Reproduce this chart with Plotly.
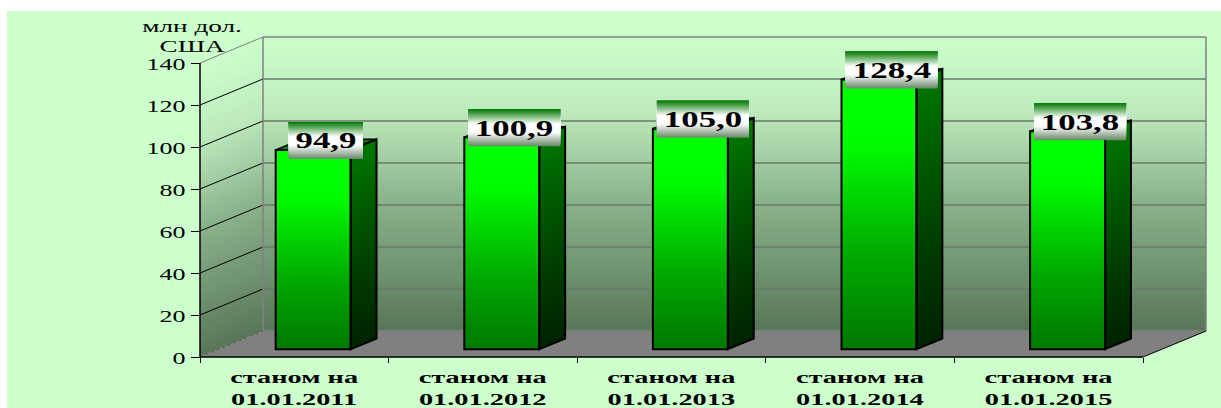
import plotly.graph_objects as go

categories = ["станом на<br>01.01.2011", "станом на<br>01.01.2012", "станом на<br>01.01.2013",
              "станом на<br>01.01.2014", "станом на<br>01.01.2015"]
values = [94.9, 100.9, 105.0, 128.4, 103.8]
value_labels = ["94,9", "100,9", "105,0", "128,4", "103,8"]
y_ticks = [0, 20, 40, 60, 80, 100, 120, 140]

W, H = 1221, 408
PX_U = 188.6      # pixels per category
PX_V = 2.1        # pixels per value unit
X0, Y0 = 200, 357
DX, DY = 63 / PX_U, 26 / PX_V   # full depth offset in axis units
BAR_D0, BAR_D1 = 0.30, 0.71     # bar depth span
BAR_W = 75 / PX_U
VMAX = 140
FONT = "Liberation Serif"


def proj(u, v, d=0.0):
    return u + d * DX, v + d * DY


def path(pts):
    return "M" + "L".join(f"{a:.5f},{b:.4f}" for a, b in pts) + "Z"


def mix(stops, t):
    for (t0, c0), (t1, c1) in zip(stops, stops[1:]):
        if t <= t1:
            f = (t - t0) / (t1 - t0) if t1 > t0 else 0
            c = [round(a + (b - a) * f) for a, b in zip(c0, c1)]
            return f"rgb({c[0]},{c[1]},{c[2]})"
    c = stops[-1][1]
    return f"rgb({c[0]},{c[1]},{c[2]})"


WALL = [(0, (88, 118, 88)), (0.45, (140, 180, 140)), (0.75, (190, 235, 190)), (1.0, (204, 255, 204))]
FRONT = [(0, (0, 120, 0)), (0.35, (0, 170, 0)), (0.75, (0, 250, 0)), (0.85, (0, 255, 0)), (1, (0, 255, 0))]
SIDE = [(0, (0, 35, 0)), (0.35, (0, 60, 0)), (1, (0, 120, 0))]
LABEL = [(0, (105, 135, 105)), (0.38, (255, 255, 255)), (0.6, (255, 255, 255)), (1, (0, 120, 0))]

shapes = []
shapes.append(dict(type="rect", xref="paper", yref="paper", x0=0, x1=1, y0=1 - 11 / H, y1=1,
                   fillcolor="white", line_width=0, layer="below"))
shapes.append(dict(type="rect", xref="paper", yref="paper", x0=0, x1=7 / W, y0=0, y1=1,
                   fillcolor="white", line_width=0, layer="below"))

# walls: painted bottom-up, every band reaches the top so no seams appear
N = 70
for k in range(N):
    v0 = VMAX * k / N
    col = mix(WALL, (k + .5) / N)
    shapes.append(dict(type="path", layer="below", fillcolor=col, line_width=0,
                       path=path([proj(0, v0), proj(0, v0, 1), proj(0, VMAX, 1), proj(0, VMAX)])))
    shapes.append(dict(type="path", layer="below", fillcolor=col, line_width=0,
                       path=path([proj(0, v0, 1), proj(5, v0, 1), proj(5, VMAX, 1), proj(0, VMAX, 1)])))
# floor
shapes.append(dict(type="path", layer="below", fillcolor="#808080", line_width=0,
                   path=path([proj(0, 0), proj(0, 0, 1), proj(5, 0, 1), proj(5, 0)])))
# grid lines
for t in y_ticks:
    if t == 0:
        continue
    a, b, c = proj(0, t), proj(0, t, 1), proj(5, t, 1)
    side_col = "black" if t < VMAX else "#808080"
    back_col = "#6a7a6a" if t < VMAX else "#808080"
    shapes.append(dict(type="line", layer="below", x0=a[0], y0=a[1], x1=b[0], y1=b[1],
                       line=dict(color=side_col, width=1)))
    shapes.append(dict(type="line", layer="below", x0=b[0], y0=b[1], x1=c[0], y1=c[1],
                       line=dict(color=back_col, width=1.5)))
# wall frame
for p, q in [((0, 0, 1), (0, VMAX, 1)), ((5, 0, 1), (5, VMAX, 1)), ((0, 0, 1), (5, 0, 1))]:
    a, b = proj(*p), proj(*q)
    shapes.append(dict(type="line", layer="below", x0=a[0], y0=a[1], x1=b[0], y1=b[1],
                       line=dict(color="#808080", width=1.5)))
a, b = proj(5, 0), proj(5, 0, 1)
shapes.append(dict(type="line", layer="below", x0=a[0], y0=a[1], x1=b[0], y1=b[1],
                   line=dict(color="black", width=1)))
a, b = proj(0, 0), proj(0, 0, 1)
shapes.append(dict(type="line", layer="below", x0=a[0], y0=a[1], x1=b[0], y1=b[1],
                   line=dict(color="#555555", width=1, dash="dot")))
# main axis lines
shapes.append(dict(type="line", layer="below", x0=0, y0=0, x1=0, y1=VMAX, line=dict(color="black", width=1.5)))
shapes.append(dict(type="line", layer="below", x0=0, y0=0, x1=5, y1=0, line=dict(color="black", width=1.5)))

# bars: front face bands go through a Bar trace, painted bottom-up
bx, by, bb, bc = [], [], [], []
B = 60
annotations = []
for i, val in enumerate(values):
    uc = i + 0.5 + BAR_D0 * DX
    lift = BAR_D0 * DY
    for k in range(B):
        v0 = val * k / B
        bx.append(uc)
        by.append(val - v0)
        bb.append(lift + v0)
        bc.append(mix(FRONT, (k + .5) / B))
    left = i + 0.5 - BAR_W / 2
    right = i + 0.5 + BAR_W / 2
    # side bands
    for k in range(B):
        v0 = val * k / B
        shapes.append(dict(type="path", layer="above", fillcolor=mix(SIDE, (k + .5) / B), line_width=0,
                           path=path([proj(right, v0, BAR_D0), proj(right, v0, BAR_D1),
                                      proj(right, val, BAR_D1), proj(right, val, BAR_D0)])))
    outline = dict(color="black", width=2)
    # top face
    shapes.append(dict(type="path", layer="above", fillcolor="#007a00", line=dict(color="black", width=1.5),
                       path=path([proj(left, val, BAR_D0), proj(left, val, BAR_D1),
                                  proj(right, val, BAR_D1), proj(right, val, BAR_D0)])))
    shapes.append(dict(type="path", layer="above", fillcolor="rgba(0,0,0,0)", line=outline,
                       path=path([proj(left, 0, BAR_D0), proj(right, 0, BAR_D0),
                                  proj(right, val, BAR_D0), proj(left, val, BAR_D0)])))
    shapes.append(dict(type="path", layer="above", fillcolor="rgba(0,0,0,0)", line=outline,
                       path=path([proj(right, 0, BAR_D0), proj(right, 0, BAR_D1),
                                  proj(right, val, BAR_D1), proj(right, val, BAR_D0)])))
    # data label box with gradient
    txt = value_labels[i]
    w_box = (18 * len(txt) + 2) / PX_U
    h_box = 37 / PX_V
    cx = left + BAR_D0 * DX + 50 / PX_U
    cy = lift + val + 9.5 / PX_V
    L = 37
    for k in range(L):
        y0 = cy - h_box / 2 + h_box * k / L
        shapes.append(dict(type="rect", layer="above", x0=cx - w_box / 2, x1=cx + w_box / 2,
                           y0=y0, y1=cy + h_box / 2,
                           fillcolor=mix(LABEL, (k + .5) / L), line_width=0))
    annotations.append(dict(x=cx, y=cy, text=f"<b>{txt}</b>", showarrow=False,
                            font=dict(family=FONT, size=24, color="black")))

fig = go.Figure(go.Bar(x=bx, y=by, base=bb, width=BAR_W, marker=dict(color=bc, line_width=0),
                       hoverinfo="skip", showlegend=False))

annotations.append(dict(xref="paper", yref="paper", x=192 / W, y=1 - 26 / H, xanchor="center", yanchor="middle",
                        text="млн дол.", showarrow=False, font=dict(family=FONT, size=17, color="black")))
annotations.append(dict(xref="paper", yref="paper", x=192 / W, y=1 - 46 / H, xanchor="center", yanchor="middle",
                        text="США", showarrow=False, font=dict(family=FONT, size=17, color="black")))

fig.update_layout(
    width=W, height=H, margin=dict(l=0, r=0, t=0, b=0),
    paper_bgcolor="#CCFFCC", plot_bgcolor="rgba(0,0,0,0)",
    barmode="overlay", showlegend=False, shapes=shapes, annotations=annotations,
    xaxis=dict(range=[-X0 / PX_U, (W - X0) / PX_U], domain=[0, 1], anchor="free", position=(H - Y0) / H,
               tickmode="array", tickvals=[i + 0.5 for i in range(5)], ticktext=[f"<b>{c}</b>" for c in categories],
               ticks="", showgrid=False, zeroline=False, showline=False, ticklabelstandoff=8,
               tickfont=dict(family=FONT, size=17, color="black"),
               minor=dict(tickmode="array", tickvals=list(range(6)), ticks="outside", ticklen=5,
                          tickcolor="black", showgrid=False)),
    yaxis=dict(range=[-(H - Y0) / PX_V, Y0 / PX_V], domain=[0, 1], anchor="free", position=X0 / W,
               tickmode="array", tickvals=y_ticks, ticktext=[str(t) for t in y_ticks],
               ticks="outside", ticklen=9, tickcolor="black", tickwidth=1, ticklabelstandoff=2,
               showgrid=False, zeroline=False, showline=False,
               tickfont=dict(family=FONT, size=17, color="black")),
)

# the reference's text is horizontally stretched; widen each text element around its anchor
STRETCH_JS = """
function stretch(sel, s, dy) {
  document.querySelectorAll(sel).forEach(function (t) {
    var k = typeof s === 'function' ? s(t) : s;
    var b = t.getBBox();
    var a = t.getAttribute('text-anchor') || t.style.textAnchor || 'start';
    var o = a === 'end' ? b.x + b.width : (a === 'middle' ? b.x + b.width / 2 : b.x);
    var old = t.getAttribute('transform') || '';
    t.setAttribute('transform', old + ' translate(' + o + ',' + (dy || 0) + ') scale(' + k + ',1) translate(' + (-o) + ',0)');
  });
}
stretch('g.xtick text', 1.67);
stretch('g.ytick text', 1.53, 1);
stretch('g.annotation-text-g text', function (t) { return /[а-яА-Я]/.test(t.textContent) ? 1.6 : 1.45; });
"""
fig.write_html("out.html", config=dict(displayModeBar=False),
               post_script="document.body.style.margin='0';" + STRETCH_JS)
